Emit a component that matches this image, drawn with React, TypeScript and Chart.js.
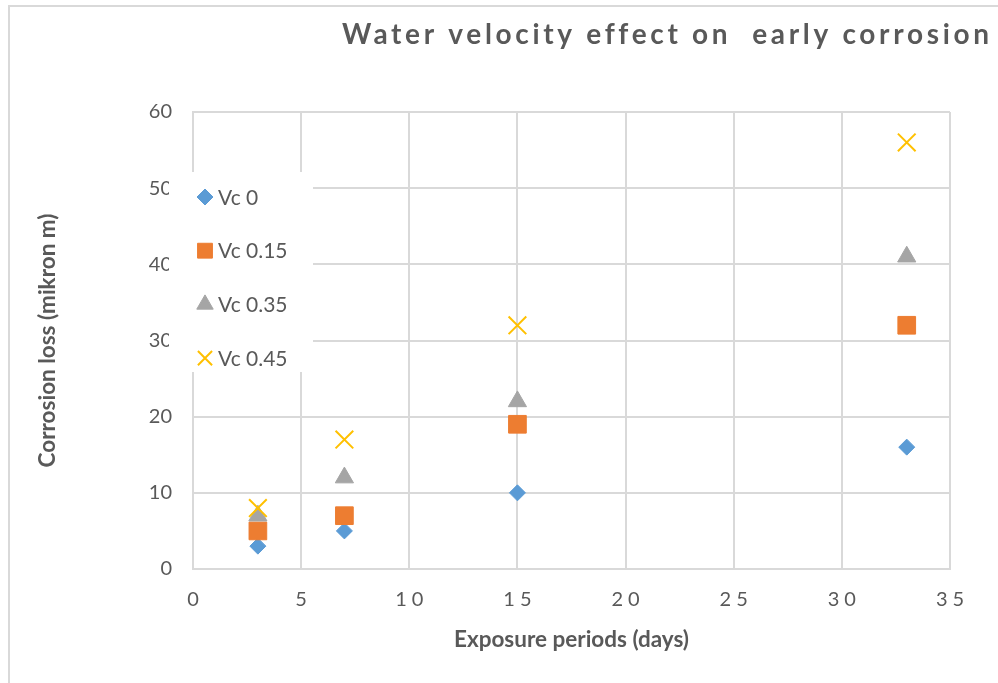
import React, { useEffect, useRef } from 'react';
import { Chart, registerables } from 'chart.js';
import { drawPoint } from 'chart.js/helpers';

Chart.register(...registerables);

// ---- data ----
const chartTitle = 'Water velocity effect on  early corrosion';
const xAxisTitle = 'Exposure periods (days)';
const yAxisTitle = 'Corrosion loss (mikron m)';
const exposureDays = [3, 7, 15, 33];
const seriesLabels = ['Vc 0', 'Vc 0.15', 'Vc 0.35', 'Vc 0.45'];
const lossVc0 = [3, 5, 10, 16];
const lossVc015 = [5, 7, 19, 32];
const lossVc035 = [7, 12, 22, 41];
const lossVc045 = [8, 17, 32, 56];
const xMin = 0, xMax = 35, xStep = 5;
const yMin = 0, yMax = 60, yStep = 10;

// ---- styles ----
const seriesValues = [lossVc0, lossVc015, lossVc035, lossVc045];
const seriesColors = ['#5B9BD5', '#ED7D31', '#A5A5A5', '#FFC000'];
const seriesStyles = ['rectRot', 'rect', 'triangle', 'crossRot'];
const seriesRadius = [8, 12.5, 10.5, 12.5];
const seriesBorder = [1, 1, 1, 2];
const legendRadius = [8, 10.5, 9.5, 10];
const FONT = 'Lato, "Open Sans", sans-serif';
const TEXT = '#595959';
const GRID = '#d9d9d9';

const decorPlugin = {
  id: 'decor',
  beforeDraw(chart: any) {
    const ctx = chart.ctx;
    ctx.save();
    ctx.strokeStyle = GRID;
    ctx.lineWidth = 2;
    ctx.strokeRect(9, 6, chart.width + 40, chart.height + 40);
    ctx.restore();
    const xs = chart.scales.x;
    if (xs && !xs.__spaced) {
      const orig = xs.drawLabels.bind(xs);
      xs.drawLabels = (area: any) => {
        ctx.save();
        (ctx as any).letterSpacing = '5px';
        ctx.translate(2.5, 0);
        orig(area);
        ctx.restore();
      };
      xs.__spaced = true;
    }
  },
  afterDraw(chart: any) {
    const ctx = chart.ctx;
    // title
    ctx.save();
    ctx.font = `bold 28px ${FONT}`;
    ctx.fillStyle = TEXT;
    ctx.textBaseline = 'alphabetic';
    ctx.textAlign = 'left';
    (ctx as any).letterSpacing = '0px';
    const w = ctx.measureText(chartTitle).width;
    const left = 342, right = 988;
    const sp = Math.max(0, (right - left - w) / (chartTitle.length - 1));
    (ctx as any).letterSpacing = sp + 'px';
    ctx.fillText(chartTitle, left, 44);
    ctx.restore();

    // legend
    ctx.save();
    ctx.fillStyle = '#ffffff';
    ctx.fillRect(169, 172, 144, 200);
    const y0 = 197, step = 53.7;
    chart.data.datasets.forEach((ds: any, i: number) => {
      const y = y0 + i * step;
      ctx.fillStyle = seriesColors[i];
      ctx.strokeStyle = seriesColors[i];
      ctx.lineWidth = seriesBorder[i];
      drawPoint(ctx, { pointStyle: seriesStyles[i], radius: legendRadius[i], borderWidth: seriesBorder[i], rotation: 0 } as any, 205, y);
      ctx.fillStyle = TEXT;
      ctx.font = `21px ${FONT}`;
      ctx.textBaseline = 'middle';
      ctx.textAlign = 'left';
      ctx.fillText(ds.label, 218, y + 1);
    });
    ctx.restore();
  },
};

export default function App() {
  const ref = useRef<HTMLCanvasElement | null>(null);
  useEffect(() => {
    document.body.style.margin = '0';
    const canvas = ref.current!;
    const datasets = seriesLabels.map((label, i) => ({
      label,
      data: exposureDays.map((x, j) => ({ x, y: seriesValues[i][j] })),
      backgroundColor: seriesColors[i],
      borderColor: seriesColors[i],
      pointStyle: seriesStyles[i] as any,
      pointRadius: seriesRadius[i],
      pointBorderWidth: seriesBorder[i],
      showLine: false,
      order: seriesLabels.length - i,
    }));
    const chart = new Chart(canvas, {
      type: 'scatter',
      data: { datasets },
      plugins: [decorPlugin],
      options: {
        animation: false,
        responsive: false,
        layout: { padding: { top: 112, right: 48, left: 0, bottom: 0 } },
        plugins: { legend: { display: false }, tooltip: { enabled: false }, title: { display: false } },
        scales: {
          x: {
            type: 'linear',
            min: xMin,
            max: xMax,
            afterFit: (s: any) => { s.height = 114; },
            ticks: { stepSize: xStep, padding: 19, color: TEXT, font: { family: FONT, size: 20 } },
            grid: { color: GRID, lineWidth: 2, drawTicks: false, tickLength: 0 },
            border: { color: GRID, width: 2 },
            title: { display: true, text: xAxisTitle, color: TEXT, font: { family: FONT, size: 22.5, weight: 'bold' }, padding: { top: 0, bottom: 29.5 } },
          },
          y: {
            type: 'linear',
            min: yMin,
            max: yMax,
            afterFit: (s: any) => { s.width = 193; },
            ticks: { stepSize: yStep, padding: 21, color: TEXT, font: { family: FONT, size: 20 } },
            grid: { color: GRID, lineWidth: 2, drawTicks: false, tickLength: 0 },
            border: { color: GRID, width: 2 },
            title: { display: true, text: yAxisTitle, color: TEXT, font: { family: FONT, size: 22.5, weight: 'bold' }, padding: { top: 34.5, bottom: 0 } },
          },
        },
      } as any,
    });
    return () => chart.destroy();
  }, []);
  return (
    <div style={{ position: 'fixed', left: 0, top: 0, width: 998, height: 683, background: '#fff' }}>
      <canvas ref={ref} width={998} height={683} style={{ display: 'block', width: 998, height: 683 }} />
    </div>
  );
}
